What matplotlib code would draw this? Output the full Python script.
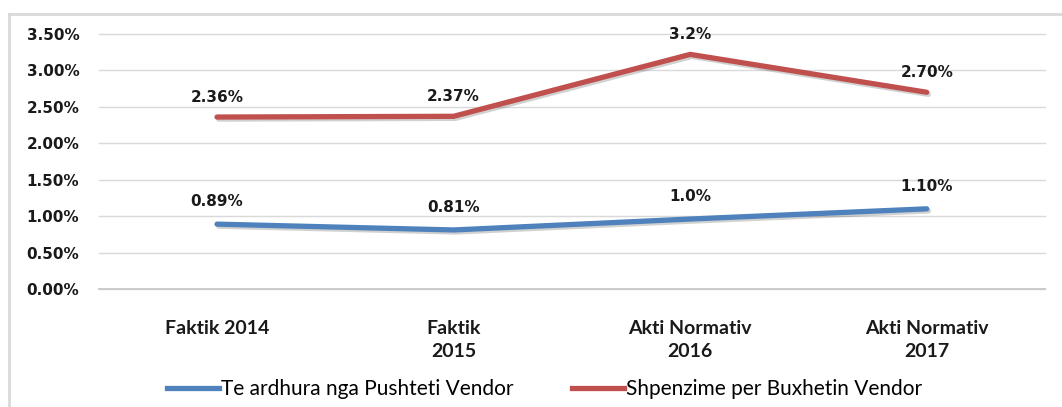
import matplotlib
matplotlib.use("Agg")
import matplotlib.pyplot as plt
import matplotlib.patheffects as pe
from matplotlib.lines import Line2D
import numpy as np

categories = ["Faktik 2014", "Faktik\n2015", "Akti Normativ\n2016", "Akti Normativ\n2017"]
te_ardhura = [0.89, 0.81, 0.96, 1.10]          # blue series (%)
te_ardhura_lbl = ["0.89%", "0.81%", "1.0%", "1.10%"]
shpenzime = [2.36, 2.37, 3.22, 2.70]            # red series (%)
shpenzime_lbl = ["2.36%", "2.37%", "3.2%", "2.70%"]
yticks = [0.0, 0.5, 1.0, 1.5, 2.0, 2.5, 3.0, 3.5]

blue = "#4f81bd"
red = "#c0504d"
narrow = ["Lato", "DejaVu Sans"]

fig = plt.figure(figsize=(10.62, 4.07), dpi=100)
ax = fig.add_axes([0.093, 0.29, 0.891, 0.6265])

x = np.arange(len(categories))
shadow = [pe.SimpleLineShadow(offset=(1.2, -1.5), alpha=0.18), pe.Normal()]
ax.plot(x, te_ardhura, color=blue, lw=3.8, solid_capstyle="round", path_effects=shadow)
ax.plot(x, shpenzime, color=red, lw=3.8, solid_capstyle="round", path_effects=shadow)

for xi, v, t in zip(x, te_ardhura, te_ardhura_lbl):
    ax.annotate(t, (xi, v), xytext=(0, 11), textcoords="offset points",
                ha="center", va="bottom", fontsize=11, fontweight="bold", color="#1a1a1a")
for xi, v, t in zip(x, shpenzime, shpenzime_lbl):
    ax.annotate(t, (xi, v), xytext=(0, 9), textcoords="offset points",
                ha="center", va="bottom", fontsize=11, fontweight="bold", color="#1a1a1a")

ax.set_xlim(-0.5, len(categories) - 0.5)
ax.set_ylim(0, 3.5)
ax.set_yticks(yticks)
ax.set_yticklabels(["%.2f%%" % v for v in yticks], fontsize=11, fontweight="bold", color="#1a1a1a")
ax.set_xticks(x)
ax.set_xticklabels(categories, fontsize=14, fontweight="bold", family=narrow,
                   linespacing=1.45, va="top", color="#1a1a1a")
ax.tick_params(axis="both", length=0)
ax.tick_params(axis="y", pad=14)
ax.tick_params(axis="x", pad=22)
ax.grid(axis="y", color="#d9d9d9", lw=1)
for gl in ax.get_ygridlines():
    gl.set_clip_on(False)
for s in ax.spines.values():
    s.set_visible(False)
ax.spines["bottom"].set_visible(True)
ax.spines["bottom"].set_color("#c8c8c8")
ax.spines["bottom"].set_linewidth(1.3)
ax.set_axisbelow(True)

handles = [Line2D([], [], color=blue, lw=3.8), Line2D([], [], color=red, lw=3.8)]
fig.legend(handles, ["Te ardhura nga Pushteti Vendor", "Shpenzime per Buxhetin Vendor"],
           loc="center", bbox_to_anchor=(0.513, 0.043), ncol=2, frameon=False,
           prop={"family": narrow, "size": 15}, handlelength=2.5, handletextpad=0.1,
           columnspacing=2.8)

# chart border (top and left visible)
fig.add_artist(Line2D([9 / 1062, 1], [1 - 14 / 407, 1 - 14 / 407], color="#d9d9d9", lw=2))
fig.add_artist(Line2D([9 / 1062, 9 / 1062], [0, 1 - 14 / 407], color="#d9d9d9", lw=2))

fig.savefig("out.png", dpi=100)
